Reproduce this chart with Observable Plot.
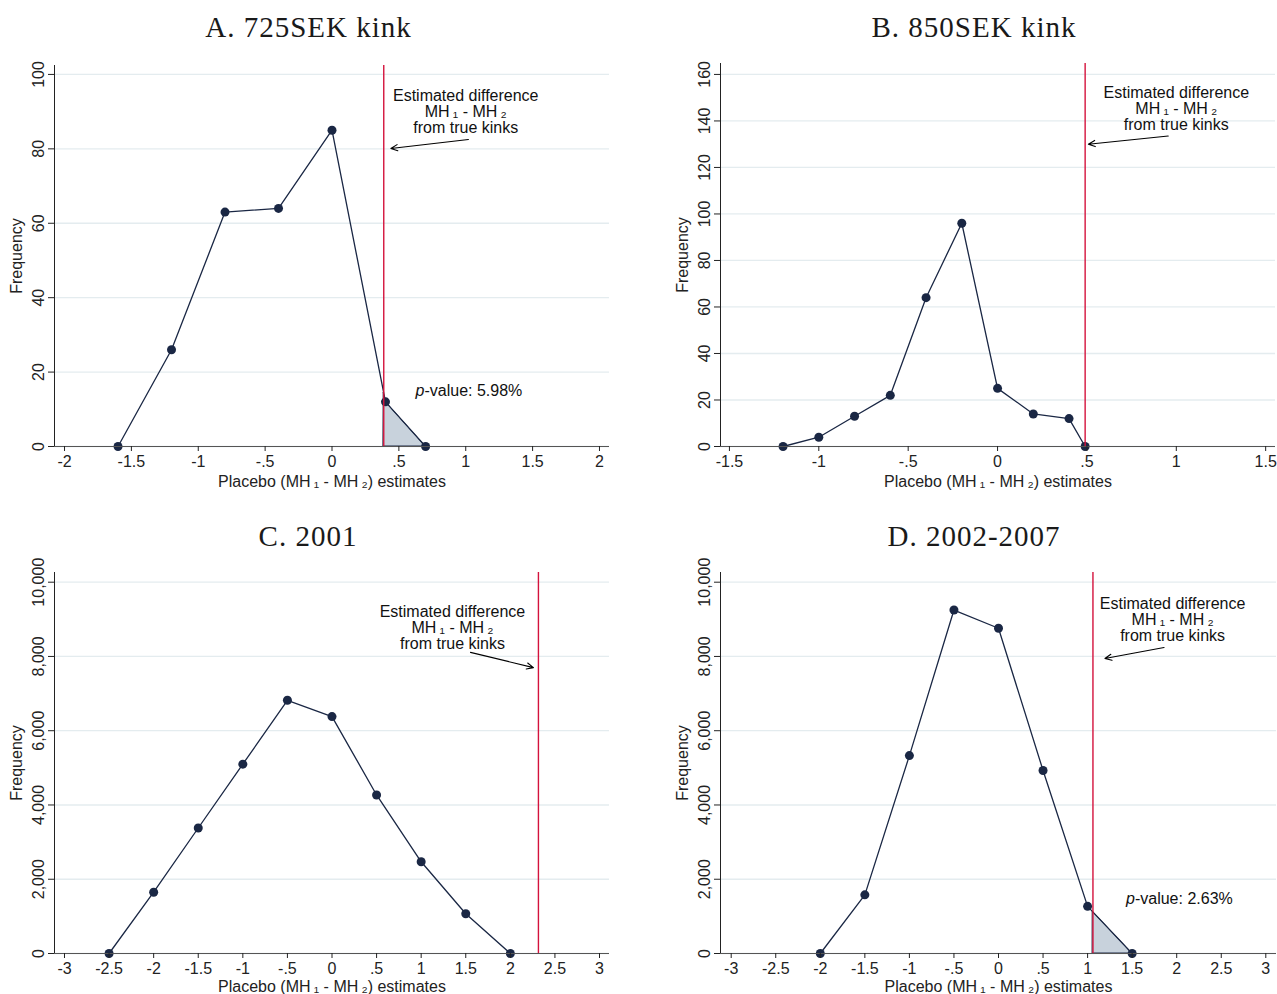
<!DOCTYPE html>
<html><head><meta charset="utf-8">
<script src="https://cdn.jsdelivr.net/npm/d3@7"></script>
<script src="https://cdn.jsdelivr.net/npm/@observablehq/plot@0.6"></script>
<style>
body{margin:0;background:#fff;}
#wrap{position:relative;width:1277px;height:994px;overflow:hidden;background:#fff;}
.panel{position:absolute;}
.title{position:absolute;font-family:"Liberation Serif","Times New Roman",serif;font-size:29px;letter-spacing:1px;transform:translate(-50%,-50%);white-space:nowrap;color:#1a1a1a;}
</style></head><body><div id="wrap"></div>
<script>
// ---- Data ----
const titles = ["A. 725SEK kink", "B. 850SEK kink", "C. 2001", "D. 2002-2007"];

const xA = [-1.6, -1.2, -0.8, -0.4, 0, 0.4, 0.7];
const yA = [0, 26, 63, 64, 85, 12, 0];
const ruleA = 0.387;
const pA = "5.98%";

const xB = [-1.2, -1.0, -0.8, -0.6, -0.4, -0.2, 0, 0.2, 0.4, 0.49];
const yB = [0, 4, 13, 22, 64, 96, 25, 14, 12, 0];
const ruleB = 0.49;

const xC = [-2.5, -2, -1.5, -1, -0.5, 0, 0.5, 1, 1.5, 2];
const yC = [0, 1650, 3380, 5100, 6820, 6380, 4270, 2470, 1070, 0];
const ruleC = 2.315;

const xD = [-2, -1.5, -1, -0.5, 0, 0.5, 1, 1.5];
const yD = [0, 1580, 5330, 9250, 8760, 4930, 1270, 0];
const ruleD = 1.06;
const pD = "2.63%";

const xTicksA = [-2, -1.5, -1, -0.5, 0, 0.5, 1, 1.5, 2];
const xTicksB = [-1.5, -1, -0.5, 0, 0.5, 1, 1.5];
const xTicksCD = [-3, -2.5, -2, -1.5, -1, -0.5, 0, 0.5, 1, 1.5, 2, 2.5, 3];
const yTicksA = [0, 20, 40, 60, 80, 100];
const yTicksB = [0, 20, 40, 60, 80, 100, 120, 140, 160];
const yTicksCD = [0, 2000, 4000, 6000, 8000, 10000];

const noteText = "Estimated difference\nMH\u2009\u2081 - MH\u2009\u2082\nfrom true kinks";
const xLabel = "Placebo (MH\u2009\u2081 - MH\u2009\u2082) estimates";
const yLabel = "Frequency";

// ---- Styling ----
const navy = "#1a2744";
const red = "#d4123c";
const shadeFill = "#c8d2dc";
const gridCol = "#e4ecef";

const fmtX = d => d === 0 ? "0" : (d < 0 ? "-" : "") + String(Math.abs(d)).replace(/^0\./, ".");

function shadeFrom(xs, ys, r) {
  // polygon under the curve to the right of the rule
  const pts = [];
  for (let i = 0; i < xs.length - 1; i++) {
    if (xs[i] <= r && xs[i + 1] > r) {
      const t = (r - xs[i]) / (xs[i + 1] - xs[i]);
      pts.push({x: r, y: ys[i] + t * (ys[i + 1] - ys[i])});
    }
  }
  xs.forEach((x, i) => { if (x > r) pts.push({x, y: ys[i]}); });
  return pts;
}

function panel(o) {
  const data = o.xs.map((x, i) => ({x, y: o.ys[i]}));
  const marks = [
    Plot.gridY(o.yTicks, {stroke: gridCol, strokeOpacity: 1, strokeWidth: 1.3}),
  ];
  if (o.shade) {
    marks.push(Plot.areaY(shadeFrom(o.xs, o.ys, o.rule), {x: "x", y: "y", fill: shadeFill, fillOpacity: 1, stroke: navy, strokeWidth: 1}));
  }
  marks.push(
    Plot.line(data, {x: "x", y: "y", stroke: navy, strokeWidth: 1.3}),
    Plot.dot(data, {x: "x", y: "y", r: 4.5, fill: navy, stroke: "none"}),
    Plot.ruleX([o.rule], {stroke: red, strokeWidth: 1.4}),
    Plot.ruleX([o.xDomain[0]], {stroke: "#222", strokeWidth: 1}),
    Plot.ruleY([0], {stroke: "#555", strokeWidth: 1.2}),
    Plot.axisX({ticks: o.xTicks, tickFormat: fmtX, tickSize: 5, tickPadding: 4, fontSize: 16,
      label: xLabel, labelAnchor: "center", labelArrow: "none", labelOffset: o.xLabelOffset}),
    Plot.axisY({ticks: o.yTicks, tickFormat: o.yFmt, tickRotate: -90, tickSize: 6, tickPadding: 5, fontSize: 16,
      label: yLabel, labelAnchor: "center", labelArrow: "none", labelOffset: 44}),
    Plot.text([o.note], {x: "x", y: "y", text: () => noteText, fontSize: 16, lineHeight: 1.0, textAnchor: "middle", lineAnchor: "middle", fill: "#111"}),
    Plot.arrow([o.arrow], {x1: "x1", y1: "y1", x2: "x2", y2: "y2", stroke: "#000", strokeWidth: 1.1, headLength: 10, headAngle: 50})
  );
  if (o.pval) {
    marks.push(
      Plot.text([o.pval], {x: "x", y: "y", text: () => "p", fontStyle: "italic", fontSize: 16, textAnchor: "end", dx: 9, fill: "#111"}),
      Plot.text([o.pval], {x: "x", y: "y", text: d => "-value: " + d.v, fontSize: 16, textAnchor: "start", dx: 9, fill: "#111"})
    );
  }
  const svg = Plot.plot({
    width: o.width, height: o.height,
    marginLeft: o.ml, marginRight: o.mr, marginTop: o.mt, marginBottom: o.mb,
    style: {fontFamily: "'Liberation Sans', Arial, sans-serif", fontSize: "16px", color: "#222", background: "transparent", overflow: "visible"},
    x: {domain: o.xDomain},
    y: {domain: o.yDomain},
    marks
  });
  svg.classList.add("panel");
  svg.style.left = o.left + "px";
  svg.style.top = o.top + "px";
  return svg;
}

const wrap = document.getElementById("wrap");

wrap.appendChild(panel({
  xs: xA, ys: yA, rule: ruleA, shade: true,
  xDomain: [-2.075, 2.075], yDomain: [0, 102.4],
  xTicks: xTicksA, yTicks: yTicksA, yFmt: d => String(d),
  note: {x: 1.0, y: 90}, arrow: {x1: 1.02, y1: 82.5, x2: 0.44, y2: 80.1},
  pval: {x: 0.624, y: 15, v: pA},
  left: 0, top: 0, width: 638, height: 497, ml: 54, mr: 29, mt: 65, mb: 51, xLabelOffset: 40
}));

wrap.appendChild(panel({
  xs: xB, ys: yB, rule: ruleB, shade: false,
  xDomain: [-1.55, 1.555], yDomain: [0, 164.7],
  xTicks: xTicksB, yTicks: yTicksB, yFmt: d => String(d),
  note: {x: 1.0, y: 145}, arrow: {x1: 0.955, y1: 133.5, x2: 0.508, y2: 130},
  pval: null,
  left: 638, top: 0, width: 639, height: 497, ml: 82, mr: 2, mt: 63, mb: 51, xLabelOffset: 40
}));

wrap.appendChild(panel({
  xs: xC, ys: yC, rule: ruleC, shade: false,
  xDomain: [-3.112, 3.112], yDomain: [0, 10261],
  xTicks: xTicksCD, yTicks: yTicksCD, yFmt: d3.format(","),
  note: {x: 1.351, y: 8780}, arrow: {x1: 1.553, y1: 8110, x2: 2.259, y2: 7700},
  pval: null,
  left: 0, top: 497, width: 638, height: 497, ml: 54, mr: 29, mt: 75, mb: 41, xLabelOffset: 38
}));

wrap.appendChild(panel({
  xs: xD, ys: yD, rule: ruleD, shade: true,
  xDomain: [-3.12, 3.12], yDomain: [0, 10261],
  xTicks: xTicksCD, yTicks: yTicksCD, yFmt: d3.format(","),
  note: {x: 1.954, y: 8995}, arrow: {x1: 1.858, y1: 8241, x2: 1.194, y2: 7945},
  pval: {x: 1.43, y: 1481, v: pD},
  left: 638, top: 497, width: 639, height: 497, ml: 82, mr: 1, mt: 75, mb: 41, xLabelOffset: 38
}));

const titlePos = [[308.5, 27], [974, 27], [308, 536], [974, 536]];
titles.forEach((t, i) => {
  const d = document.createElement("div");
  d.className = "title";
  d.textContent = t;
  d.style.left = titlePos[i][0] + "px";
  d.style.top = titlePos[i][1] + "px";
  wrap.appendChild(d);
});
</script>
</body></html>
